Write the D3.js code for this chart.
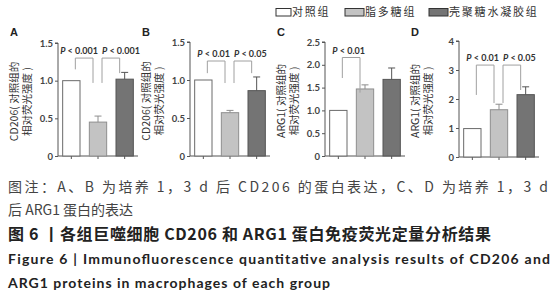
<!DOCTYPE html>
<html>
<head>
<meta charset="utf-8">
<script src="https://cdn.jsdelivr.net/npm/d3@7"></script>
<style>
  body { margin: 0; background: #fff; }
  svg { display: block; }
</style>
</head>
<body>
<div id="chart"></div>
<script>
// groups and legend
const groups = ["对照组", "脂多糖组", "壳聚糖水凝胶组"];
const panelNames = ["A", "B", "C", "D"];
const markers = ["CD206", "CD206", "ARG1", "ARG1"];

// bar means and error (SD, upward only)
const meansA = [1.0, 0.45, 1.02];
const errA = [0, 0.08, 0.09];
const meansB = [1.0, 0.57, 0.86];
const errB = [0, 0.03, 0.18];
const meansC = [1.0, 1.47, 1.68];
const errC = [0, 0.09, 0.25];
const meansD = [0.98, 1.63, 2.15];
const errD = [0, 0.19, 0.27];

// y ticks
const ticksAB = [0, 0.5, 1.0, 1.5];
const ticksC = [0, 0.5, 1.0, 1.5, 2.0, 2.5];
const ticksD = [0, 1, 2, 3, 4];

// significance brackets: from group, to group, top value, leg end values, label
const sigA = [
  { from: 0, to: 1, top: 1.30, leftEnd: 1.15, rightEnd: 0.97, label: "0.001" },
  { from: 1, to: 2, top: 1.30, leftEnd: 0.97, rightEnd: 1.10, label: "0.001" }
];
const sigB = [
  { from: 0, to: 1, top: 1.25, leftEnd: 1.09, rightEnd: 0.96, label: "0.01" },
  { from: 1, to: 2, top: 1.25, leftEnd: 0.96, rightEnd: 1.09, label: "0.05" }
];
const sigC = [
  { from: 0, to: 1, top: 2.16, leftEnd: 1.71, rightEnd: 1.39, label: "0.01" }
];
const sigD = [
  { from: 0, to: 1, top: 3.17, leftEnd: 2.14, rightEnd: 1.86, label: "0.01" },
  { from: 1, to: 2, top: 3.17, leftEnd: 1.86, rightEnd: 2.31, label: "0.05" }
];

const captionLines = [
  "图注：A、B 为培养 1，3 d 后 CD206 的蛋白表达，C、D 为培养 1，3 d",
  "后 ARG1 蛋白的表达",
  "图 6 丨各组巨噬细胞 CD206 和 ARG1 蛋白免疫荧光定量分析结果",
  "Figure 6  |  Immunofluorescence quantitative analysis results of CD206 and",
  "ARG1 proteins in macrophages of each group"
];

const W = 559, H = 300;
const fills = ["#ffffff", "#c3c3c3", "#747474"];
const strokes = ["#6a6a6a", "#8e8e8e", "#555555"];
const cjk = "'Noto Sans CJK SC', sans-serif";
const latin = "Lato, 'Noto Sans', sans-serif";

const svg = d3.select("#chart").append("svg")
  .attr("width", W).attr("height", H);

// legend
const legendX = [276, 345, 429];
const legendW = [15, 19, 19];
groups.forEach((g, i) => {
  svg.append("rect")
    .attr("x", legendX[i]).attr("y", 8.5)
    .attr("width", legendW[i]).attr("height", 7.5)
    .attr("fill", fills[i]).attr("stroke", "#333").attr("stroke-width", 1);
  svg.append("text")
    .attr("x", legendX[i] + legendW[i] + 1).attr("y", 16)
    .attr("font-family", cjk).attr("font-size", 11)
    .attr("letter-spacing", 1.8)
    .attr("fill", "#333")
    .text(g);
});

const panels = [
  { means: meansA, err: errA, ticks: ticksAB, sig: sigA, x0: 58, y0: 156, yTop: 43, fmt: d3.format(".1f") },
  { means: meansB, err: errB, ticks: ticksAB, sig: sigB, x0: 190, y0: 156, yTop: 42, fmt: d3.format(".1f") },
  { means: meansC, err: errC, ticks: ticksC, sig: sigC, x0: 325, y0: 156, yTop: 42, fmt: d3.format(".1f") },
  { means: meansD, err: errD, ticks: ticksD, sig: sigD, x0: 459, y0: 157, yTop: 41, fmt: d3.format("d") }
];

panels.forEach((p, k) => {
  const g = svg.append("g");
  const maxV = p.ticks[p.ticks.length - 1];
  const y = d3.scaleLinear().domain([0, maxV]).range([p.y0, p.yTop]);
  const x = d3.scaleBand().domain(groups).range([p.x0, p.x0 + 80])
    .paddingInner(0.35).paddingOuter(0.175);

  // y axis
  const yAxis = d3.axisLeft(y).tickValues(p.ticks)
    .tickFormat(d => d === 0 ? "0" : p.fmt(d))
    .tickSize(3).tickPadding(2);
  const ya = g.append("g").attr("transform", `translate(${p.x0},0)`).call(yAxis);
  ya.select(".domain").attr("stroke", "#555").attr("d", `M-3,${p.yTop}H0V${p.y0}`);
  ya.selectAll(".tick line").attr("stroke", "#555");
  ya.selectAll(".tick text").attr("font-family", latin).attr("font-weight", "bold")
    .attr("font-size", 9.5).attr("fill", "#444");

  // x axis
  const xAxis = d3.axisBottom(x).tickSize(3).tickFormat("");
  const xa = g.append("g").attr("transform", `translate(0,${p.y0})`).call(xAxis);
  xa.select(".domain").attr("stroke", "#555").attr("d", `M${p.x0},0H${p.x0 + 80}`);
  xa.selectAll(".tick line").attr("stroke", "#555");

  // bars
  g.selectAll("rect.bar").data(p.means).join("rect")
    .attr("class", "bar")
    .attr("x", (d, i) => x(groups[i]))
    .attr("y", d => y(d))
    .attr("width", x.bandwidth())
    .attr("height", d => y(0) - y(d))
    .attr("fill", (d, i) => fills[i])
    .attr("stroke", (d, i) => strokes[i])
    .attr("stroke-width", 1);

  // error bars
  p.means.forEach((m, i) => {
    if (!p.err[i]) return;
    const cx = x(groups[i]) + x.bandwidth() / 2;
    g.append("line").attr("x1", cx).attr("x2", cx)
      .attr("y1", y(m)).attr("y2", y(m + p.err[i]))
      .attr("stroke", strokes[i]).attr("stroke-width", 1);
    g.append("line").attr("x1", cx - 3.5).attr("x2", cx + 3.5)
      .attr("y1", y(m + p.err[i])).attr("y2", y(m + p.err[i]))
      .attr("stroke", strokes[i]).attr("stroke-width", 1);
  });

  // significance brackets
  p.sig.forEach((s, i) => {
    const lx = x(groups[s.from]) + x.bandwidth() / 2 + 4;
    const rx = x(groups[s.to]) + x.bandwidth() / 2 - 5;
    g.append("path")
      .attr("d", `M${lx},${y(s.leftEnd)}V${y(s.top)}H${rx}V${y(s.rightEnd)}`)
      .attr("fill", "none").attr("stroke", "#a0a0a0").attr("stroke-width", 1);
    const t = g.append("text")
      .attr("y", y(s.top) - 4)
      .attr("font-family", latin).attr("font-weight", "bold")
      .attr("font-size", 9).attr("fill", "#333");
    if (i === 0) t.attr("x", rx + 5).attr("text-anchor", "end");
    else t.attr("x", lx).attr("text-anchor", "start");
    t.append("tspan").attr("font-style", "italic").text("P");
    t.append("tspan").text(" < " + s.label);
  });

  // panel letter
  svg.append("text")
    .attr("x", p.x0 - 48).attr("y", 36)
    .attr("font-family", "'Liberation Sans', sans-serif").attr("font-weight", "bold")
    .attr("font-size", 11).attr("fill", "#222")
    .text(panelNames[k]);

  // y label (two rotated lines)
  const cy = (p.y0 + p.yTop) / 2 + 2;
  [markers[k] + "( 对照组的", "相对荧光强度 )"].forEach((line, j) => {
    svg.append("text")
      .attr("transform", `translate(${p.x0 - 40 + j * 13},${cy}) rotate(-90)`)
      .attr("text-anchor", "middle")
      .attr("font-family", cjk).attr("font-size", 10.5)
      .attr("fill", "#333")
      .text(line);
  });
});

// caption
const capY = [192, 215, 240, 264, 288];
const capLen = [540, 0, 483, 542, 322];
const capSize = [14, 14, 16, 14, 14];
captionLines.forEach((line, i) => {
  const t = svg.append("text")
    .attr("x", 8).attr("y", capY[i])
    .attr("font-family", i >= 3 ? latin : cjk)
    .attr("font-size", capSize[i])
    .attr("font-weight", i >= 2 ? "bold" : "normal")
    .attr("fill", i >= 2 ? "#222" : "#444")
    .text(line);
  if (capLen[i]) t.attr("textLength", capLen[i]).attr("lengthAdjust", "spacing");
});
</script>
</body>
</html>
